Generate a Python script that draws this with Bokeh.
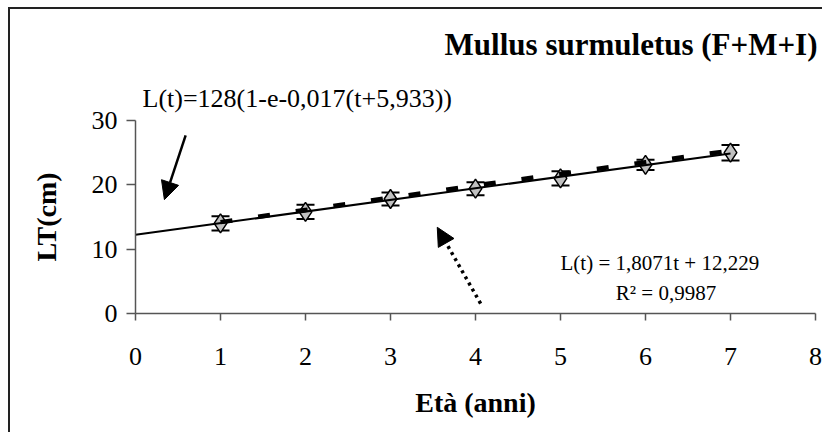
from bokeh.plotting import figure
from bokeh.models import Range1d, Label, Arrow, NormalHead, Whisker, TeeHead, ColumnDataSource, FixedTicker, Title
from bokeh.embed import file_html
from bokeh.resources import INLINE

# ---- data ----
ages = [1, 2, 3, 4, 5, 6, 7]
lt_obs = [14.0, 15.8, 17.8, 19.4, 21.0, 23.1, 25.0]
lt_err = [1.1, 1.1, 1.0, 1.0, 1.1, 0.8, 1.2]
vb_ages = [1, 2, 3, 4, 5, 6, 7]
vb_lt = [14.2, 16.1, 18.0, 19.9, 21.7, 23.5, 25.3]
fit_ages = [0, 7]
fit_lt = [12.229, 24.879]
x_ticks = [0, 1, 2, 3, 4, 5, 6, 7, 8]
y_ticks = [0, 10, 20, 30]

SERIF = "Liberation Serif"

p = figure(width=814, height=425, output_backend="svg", toolbar_location=None,
           x_range=Range1d(0, 8), y_range=Range1d(0, 30),
           min_border_left=125, min_border_right=9, min_border_top=111, min_border_bottom=121)
p.styles = {"margin-left": "10px", "margin-top": "9px",
            "box-shadow": "-2px -2px 0px 0px #222222"}
p.outline_line_color = None
p.grid.visible = False
p.background_fill_color = "white"
p.border_fill_color = "white"
p.title.visible = False

for ax in (p.xaxis[0], p.yaxis[0]):
    ax.axis_line_color = "#555555"
    ax.axis_line_width = 1.5
    ax.major_tick_line_color = "#555555"
    ax.major_tick_line_width = 1.5
    ax.major_tick_in = 0
    ax.minor_tick_line_color = None
    ax.major_label_text_font = SERIF
    ax.major_label_text_font_size = "26px"
    ax.major_label_text_color = "black"
    ax.axis_label_text_font = SERIF
    ax.axis_label_text_font_style = "bold"
    ax.axis_label_text_font_size = "28px"
    ax.axis_label_text_color = "black"

p.xaxis.ticker = FixedTicker(ticks=x_ticks)
p.yaxis.ticker = FixedTicker(ticks=y_ticks)
p.xaxis.major_tick_out = 7
p.yaxis.major_tick_out = 9
p.xaxis.major_label_standoff = 27
p.yaxis.major_label_standoff = 9
p.xaxis.axis_label = "Età (anni)"
p.yaxis.axis_label = "LT(cm)"
p.xaxis.axis_label_standoff = 19
p.yaxis.axis_label_standoff = 27

src = ColumnDataSource(dict(x=ages, y=lt_obs,
                            lo=[v - e for v, e in zip(lt_obs, lt_err)],
                            hi=[v + e for v, e in zip(lt_obs, lt_err)]))

p.scatter("x", "y", source=src, marker="diamond", size=19,
          fill_color="#c0c0c0", line_color="black", line_width=1.5)
p.add_layout(Whisker(base="x", lower="lo", upper="hi", source=src, dimension="height",
                     line_color="black", line_width=1.5,
                     upper_head=TeeHead(size=18, line_color="black", line_width=2),
                     lower_head=TeeHead(size=18, line_color="black", line_width=2)))

p.line(fit_ages, fit_lt, line_color="black", line_width=2)
p.line(vb_ages, vb_lt, line_color="black", line_width=4.5, line_dash="12 26")

# arrows
p.add_layout(Arrow(end=NormalHead(size=18, fill_color="black", line_color="black"),
                   x_start=0.59, y_start=27.7, x_end=0.34, y_end=17.7,
                   line_color="black", line_width=2.5))
p.add_layout(Arrow(end=NormalHead(size=18, fill_color="black", line_color="black"),
                   x_start=4.06, y_start=1.55, x_end=3.55, y_end=13.4,
                   line_color="black", line_width=3.5, line_dash="3 4"))

# texts above the plot area
t_formula = Title(text="L(t)=128(1-e-0,017(t+5,933))", align="left", offset=7, standoff=15,
                  text_font=SERIF, text_font_size="26px", text_font_style="normal",
                  text_color="black")
t_species = Title(text="Mullus surmuletus (F+M+I)", align="right", offset=-2, standoff=26,
                  text_font=SERIF, text_font_size="31px", text_font_style="bold",
                  text_color="black")
p.add_layout(t_formula, "above")
p.add_layout(t_species, "above")

p.add_layout(Label(x=5.0, y=7.9, text="L(t) = 1,8071t + 12,229", text_align="left",
                   text_baseline="middle", text_font=SERIF, text_font_size="21px",
                   text_color="black"))
p.add_layout(Label(x=5.65, y=3.2, text="R² = 0,9987", text_align="left",
                   text_baseline="middle", text_font=SERIF, text_font_size="21px",
                   text_color="black"))

open("out.html", "w").write(file_html(p, INLINE))
